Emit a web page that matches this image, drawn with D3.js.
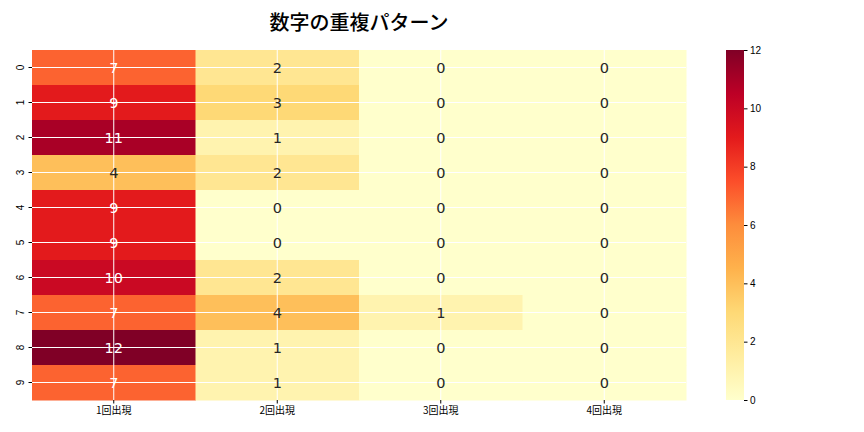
<!DOCTYPE html>
<html>
<head>
<meta charset="utf-8">
<script src="https://cdn.jsdelivr.net/npm/d3@7.9.0/dist/d3.min.js"></script>
<style>
  body { margin: 0; background: #fff; }
  svg { display: block; font-family: 'DejaVu Sans', 'Noto Sans CJK JP', sans-serif; }
</style>
</head>
<body>
<svg id="chart" width="864" height="432"></svg>
<script>
const rows = ['0', '1', '2', '3', '4', '5', '6', '7', '8', '9'];
const columns = ['1回出現', '2回出現', '3回出現', '4回出現'];
const once = [7, 9, 11, 4, 9, 9, 10, 7, 12, 7];
const twice = [2, 3, 1, 2, 0, 0, 2, 4, 1, 1];
const thrice = [0, 0, 0, 0, 0, 0, 0, 1, 0, 0];
const fourTimes = [0, 0, 0, 0, 0, 0, 0, 0, 0, 0];
const colorbarTicks = [0, 2, 4, 6, 8, 10, 12];
const ylOrRd = ['#ffffcc', '#ffeda0', '#fed976', '#feb24c', '#fd8d3c', '#fc4e2a', '#e31a1c', '#bd0026', '#800026'];

const series = [once, twice, thrice, fourTimes];
const cells = [];
rows.forEach((row, i) => {
  columns.forEach((col, j) => {
    cells.push({ row, col, value: series[j][i] });
  });
});

const svg = d3.select('#chart');
const plotLeft = 32, plotRight = 686, plotTop = 50, plotBottom = 400;

const x = d3.scaleBand().domain(columns).range([plotLeft, plotRight]);
const y = d3.scaleBand().domain(rows).range([plotTop, plotBottom]);

const vmin = 0, vmax = 12;
const color = d3.scaleLinear()
  .domain(ylOrRd.map((_, i) => vmin + (vmax - vmin) * i / (ylOrRd.length - 1)))
  .range(ylOrRd)
  .interpolate(d3.interpolateRgb);

function textColor(v) {
  const c = d3.rgb(color(v));
  const lin = (u) => { u /= 255; return u <= 0.03928 ? u / 12.92 : Math.pow((u + 0.055) / 1.055, 2.4); };
  const lum = 0.2126 * lin(c.r) + 0.7152 * lin(c.g) + 0.0722 * lin(c.b);
  return lum > 0.408 ? '#262626' : '#ffffff';
}

svg.append('g')
  .selectAll('rect')
  .data(cells)
  .join('rect')
  .attr('x', (d) => x(d.col))
  .attr('y', (d) => y(d.row))
  .attr('width', x.bandwidth() + 0.5)
  .attr('height', y.bandwidth() + 0.5)
  .attr('fill', (d) => color(d.value));

// white grid lines at tick positions
const grid = svg.append('g').attr('stroke', '#ffffff').attr('stroke-width', 1);
grid.selectAll('.vline')
  .data(columns)
  .join('line')
  .attr('class', 'vline')
  .attr('x1', (d) => x(d) + x.bandwidth() / 2)
  .attr('x2', (d) => x(d) + x.bandwidth() / 2)
  .attr('y1', plotTop)
  .attr('y2', plotBottom);
grid.selectAll('.hline')
  .data(rows)
  .join('line')
  .attr('class', 'hline')
  .attr('x1', plotLeft)
  .attr('x2', plotRight)
  .attr('y1', (d) => y(d) + y.bandwidth() / 2)
  .attr('y2', (d) => y(d) + y.bandwidth() / 2);

svg.append('g')
  .selectAll('text')
  .data(cells)
  .join('text')
  .attr('x', (d) => x(d.col) + x.bandwidth() / 2)
  .attr('y', (d) => y(d.row) + y.bandwidth() / 2)
  .attr('text-anchor', 'middle')
  .attr('dominant-baseline', 'central')
  .attr('font-size', 14.5)
  .attr('fill', (d) => textColor(d.value))
  .text((d) => d.value);

// axes
const xAxis = svg.append('g')
  .attr('transform', `translate(0,${plotBottom})`)
  .call(d3.axisBottom(x).tickSize(3.5).tickPadding(3));
xAxis.select('.domain').remove();
xAxis.selectAll('text')
  .attr('font-family', "'Noto Sans CJK JP', sans-serif")
  .attr('font-size', 10)
  .attr('fill', '#000');

const yAxis = svg.append('g')
  .attr('transform', `translate(${plotLeft},0)`)
  .call(d3.axisLeft(y).tickSize(3.5).tickPadding(3));
yAxis.select('.domain').remove();
yAxis.selectAll('text')
  .attr('font-size', 10)
  .attr('fill', '#000')
  .attr('text-anchor', 'middle')
  .attr('dy', null)
  .attr('dominant-baseline', 'central')
  .attr('x', 0)
  .attr('transform', 'translate(-12,0) rotate(-90)');

// colorbar
const cbX = 726, cbW = 18;
const cbScale = d3.scaleLinear().domain([vmin, vmax]).range([plotBottom, plotTop]);
const defs = svg.append('defs');
const grad = defs.append('linearGradient')
  .attr('id', 'cbgrad')
  .attr('x1', 0).attr('y1', 1).attr('x2', 0).attr('y2', 0);
grad.selectAll('stop')
  .data(ylOrRd)
  .join('stop')
  .attr('offset', (_, i) => i / (ylOrRd.length - 1))
  .attr('stop-color', (d) => d);
svg.append('rect')
  .attr('x', cbX)
  .attr('y', plotTop)
  .attr('width', cbW)
  .attr('height', plotBottom - plotTop)
  .attr('fill', 'url(#cbgrad)');
const cbAxis = svg.append('g')
  .attr('transform', `translate(${cbX + cbW},0)`)
  .call(d3.axisRight(cbScale).tickValues(colorbarTicks).tickSize(3.5).tickPadding(2.5));
cbAxis.select('.domain').remove();
cbAxis.selectAll('text').attr('font-size', 10).attr('fill', '#000');

svg.append('text')
  .attr('x', (plotLeft + plotRight) / 2)
  .attr('y', 30)
  .attr('text-anchor', 'middle')
  .attr('font-family', "'Noto Sans CJK JP', sans-serif")
  .attr('font-weight', 500)
  .attr('font-size', 20)
  .attr('fill', '#000')
  .text('数字の重複パターン');
</script>
</body>
</html>
